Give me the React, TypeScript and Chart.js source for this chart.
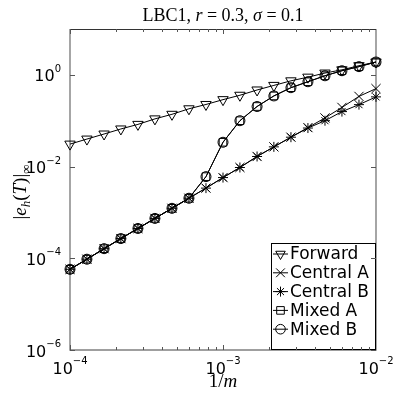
import React, { useEffect, useRef } from 'react';
import { Chart, registerables } from 'chart.js';

Chart.register(...registerables);

// 1/m values (x)
const invM = [1.0e-4, 1.29e-4, 1.67e-4, 2.15e-4, 2.78e-4, 3.59e-4, 4.64e-4, 5.99e-4, 7.74e-4, 1.0e-3, 1.29e-3, 1.67e-3, 2.15e-3, 2.78e-3, 3.59e-3, 4.64e-3, 5.99e-3, 7.74e-3, 1.0e-2];
// error series
const forward = [0.0309, 0.0398, 0.0513, 0.0661, 0.0832, 0.1096, 0.138, 0.182, 0.226, 0.288, 0.359, 0.468, 0.589, 0.741, 0.891, 1.096, 1.288, 1.585, 1.905];
const centralA = [5.75e-5, 9.55e-5, 1.62e-4, 2.69e-4, 4.47e-4, 7.41e-4, 1.23e-3, 2.04e-3, 3.39e-3, 5.75e-3, 9.55e-3, 0.0166, 0.0269, 0.0437, 0.0708, 0.115, 0.195, 0.339, 0.501];
const centralB = [5.75e-5, 9.55e-5, 1.62e-4, 2.69e-4, 4.47e-4, 7.41e-4, 1.23e-3, 2.04e-3, 3.39e-3, 5.75e-3, 9.55e-3, 0.0166, 0.0269, 0.0437, 0.0692, 0.1, 0.158, 0.224, 0.331];
const mixedA = [5.75e-5, 9.55e-5, 1.62e-4, 2.69e-4, 4.47e-4, 7.41e-4, 1.23e-3, 2.04e-3, 6.03e-3, 0.0339, 0.1, 0.204, 0.347, 0.525, 0.708, 0.955, 1.23, 1.51, 1.905];
const mixedB = [5.75e-5, 9.55e-5, 1.62e-4, 2.69e-4, 4.47e-4, 7.41e-4, 1.23e-3, 2.04e-3, 6.03e-3, 0.0339, 0.1, 0.204, 0.347, 0.525, 0.708, 0.955, 1.23, 1.51, 1.905];

const seriesNames = ['Forward', 'Central A', 'Central B', 'Mixed A', 'Mixed B'];
const xTickExps = [-4, -3, -2];
const yTickExps = [-6, -4, -2, 0];

const TICK_FONT = '"DejaVu Sans", sans-serif';
const SERIF = '"Liberation Serif", "DejaVu Serif", serif';

function drawMarker(ctx: CanvasRenderingContext2D, kind: string, x: number, y: number) {
  ctx.save();
  ctx.strokeStyle = '#000';
  ctx.lineWidth = 1;
  ctx.beginPath();
  if (kind === 'Forward') {
    const r = 5.5;
    ctx.moveTo(x, y + r);
    ctx.lineTo(x - r * 0.866, y - r * 0.5);
    ctx.lineTo(x + r * 0.866, y - r * 0.5);
    ctx.closePath();
  } else if (kind === 'Central A') {
    const d = 4.4;
    ctx.moveTo(x - d, y - d); ctx.lineTo(x + d, y + d);
    ctx.moveTo(x + d, y - d); ctx.lineTo(x - d, y + d);
  } else if (kind === 'Central B') {
    const r = 5; const d = r * 0.707;
    ctx.moveTo(x - r, y); ctx.lineTo(x + r, y);
    ctx.moveTo(x, y - r); ctx.lineTo(x, y + r);
    ctx.moveTo(x - d, y - d); ctx.lineTo(x + d, y + d);
    ctx.moveTo(x + d, y - d); ctx.lineTo(x - d, y + d);
  } else if (kind === 'Mixed A') {
    const s = 3.8;
    ctx.rect(x - s, y - s, 2 * s, 2 * s);
  } else {
    ctx.arc(x, y, 4.8, 0, Math.PI * 2);
  }
  ctx.stroke();
  ctx.restore();
}

function drawPow(ctx: CanvasRenderingContext2D, exp: number, x: number, baseline: number, align: 'center' | 'right') {
  ctx.font = `16px ${TICK_FONT}`;
  const wBase = ctx.measureText('10').width;
  ctx.font = `10px ${TICK_FONT}`;
  const eStr = exp < 0 ? '\u2212' + String(-exp) : String(exp);
  const wExp = ctx.measureText(eStr).width;
  const total = wBase + wExp;
  const start = align === 'center' ? x - total / 2 : x - total;
  ctx.textAlign = 'left';
  ctx.textBaseline = 'alphabetic';
  ctx.font = `16px ${TICK_FONT}`;
  ctx.fillText('10', start, baseline);
  ctx.font = `10px ${TICK_FONT}`;
  ctx.fillText(eStr, start + wBase, baseline - 9.5);
}

function drawSegments(ctx: CanvasRenderingContext2D, segs: { t: string; f: string; dy?: number }[], cx: number, baseline: number) {
  let total = 0;
  for (const s of segs) { ctx.font = s.f; total += ctx.measureText(s.t).width; }
  let x = cx - total / 2;
  ctx.textAlign = 'left';
  ctx.textBaseline = 'alphabetic';
  for (const s of segs) {
    ctx.font = s.f;
    ctx.fillText(s.t, x, baseline + (s.dy || 0));
    x += ctx.measureText(s.t).width;
  }
}

const decorPlugin = {
  id: 'decor',
  beforeDatasetsDraw(chart: any) {
    const { ctx, chartArea } = chart;
    const { left, right, top, bottom } = chartArea;
    ctx.save();
    ctx.fillStyle = '#fff';
    ctx.fillRect(0, 0, chart.width, chart.height);
    ctx.lineWidth = 1.4;
    ctx.strokeStyle = '#808080';
    ctx.beginPath();
    ctx.moveTo(left, top); ctx.lineTo(left, bottom); ctx.lineTo(right, bottom); ctx.lineTo(right, top);
    ctx.stroke();
    ctx.lineWidth = 1;
    ctx.strokeStyle = '#333';
    ctx.beginPath();
    ctx.moveTo(left, top + 0.5); ctx.lineTo(right, top + 0.5);
    ctx.stroke();
    ctx.restore();
  },
  afterDatasetsDraw(chart: any) {
    const { ctx, chartArea } = chart;
    const { left, right, top, bottom } = chartArea;
    const xs = chart.scales.x;
    const ys = chart.scales.y;
    ctx.save();
    // legend
    const lx0 = 271, lx1 = right, ly0 = 243, ly1 = bottom;
    ctx.fillStyle = '#fff';
    ctx.fillRect(lx0, ly0, lx1 - lx0, ly1 - ly0);
    ctx.strokeStyle = '#000';
    ctx.lineWidth = 1;
    ctx.strokeRect(lx0 + 0.5, ly0 + 0.5, lx1 - lx0 - 1, ly1 - ly0 - 1);
    seriesNames.forEach((name, i) => {
      const y = 254 + i * 18.8;
      ctx.strokeStyle = '#000';
      ctx.lineWidth = 1;
      ctx.beginPath();
      ctx.moveTo(273, y); ctx.lineTo(288, y);
      ctx.stroke();
      drawMarker(ctx, name, 280.5, y);
      ctx.fillStyle = '#000';
      ctx.font = `17px ${TICK_FONT}`;
      ctx.textAlign = 'left';
      ctx.textBaseline = 'middle';
      ctx.fillText(name, 290, y + 1);
    });
    // ticks
    ctx.strokeStyle = '#555';
    ctx.lineWidth = 1;
    ctx.beginPath();
    for (let e = -4; e < -2; e++) {
      for (let m = 1; m <= 9; m++) {
        const v = m * Math.pow(10, e);
        const px = Math.round(xs.getPixelForValue(v)) + 0.5;
        const len = m === 1 ? 5 : 3;
        ctx.moveTo(px, bottom); ctx.lineTo(px, bottom - len);
        ctx.moveTo(px, top); ctx.lineTo(px, top + len);
      }
    }
    yTickExps.forEach((e) => {
      const py = Math.round(ys.getPixelForValue(Math.pow(10, e))) + 0.5;
      ctx.moveTo(left, py); ctx.lineTo(left + 5, py);
      ctx.moveTo(right, py); ctx.lineTo(right - 5, py);
    });
    ctx.stroke();
    ctx.restore();
  },
  afterDraw(chart: any) {
    const { ctx, chartArea } = chart;
    const { left, right, top, bottom } = chartArea;
    const xs = chart.scales.x;
    const ys = chart.scales.y;
    const cx = (left + right) / 2;
    ctx.save();
    ctx.fillStyle = '#000';
    // tick labels
    xTickExps.forEach((e) => {
      const px = xs.getPixelForValue(Math.pow(10, e));
      drawPow(ctx, e, px, bottom + 23.5, 'center');
    });
    yTickExps.forEach((e) => {
      const py = ys.getPixelForValue(Math.pow(10, e));
      drawPow(ctx, e, left - 9, py + 6.5, 'right');
    });
    // title
    drawSegments(ctx, [
      { t: 'LBC1, ', f: `18px ${SERIF}` },
      { t: 'r', f: `italic 18px ${SERIF}` },
      { t: ' = 0.3, ', f: `18px ${SERIF}` },
      { t: '\u03c3', f: `italic 18px ${SERIF}` },
      { t: ' = 0.1', f: `18px ${SERIF}` },
    ], cx, 21);
    // x label
    drawSegments(ctx, [
      { t: '1/', f: `19px ${SERIF}` },
      { t: 'm', f: `italic 19px ${SERIF}` },
    ], cx, 387);
    // y label
    ctx.translate(26, 192);
    ctx.rotate(-Math.PI / 2);
    drawSegments(ctx, [
      { t: '|', f: `19px ${SERIF}` },
      { t: 'e', f: `italic 19px ${SERIF}` },
      { t: 'h', f: `italic 13px ${SERIF}`, dy: 4 },
      { t: '(', f: `19px ${SERIF}` },
      { t: 'T', f: `italic 19px ${SERIF}` },
      { t: ')|', f: `19px ${SERIF}` },
      { t: '\u221e', f: `13px ${SERIF}`, dy: 4 },
    ], 0, 0);
    ctx.restore();
  },
};

function makeDataset(label: string, values: number[], style: any) {
  return {
    label,
    data: invM.map((x, i) => ({ x, y: values[i] })),
    borderColor: '#000',
    borderWidth: 1,
    pointBorderColor: '#000',
    pointBackgroundColor: 'rgba(0,0,0,0)',
    pointBorderWidth: 1,
    fill: false,
    tension: 0,
    clip: false,
    ...style,
  };
}

export default function App() {
  const ref = useRef<HTMLCanvasElement | null>(null);
  useEffect(() => {
    if (!ref.current) return;
    const chart = new Chart(ref.current, {
      type: 'line',
      data: {
        datasets: [
          makeDataset('Forward', forward, { pointStyle: 'triangle', rotation: 180, pointRadius: 6 }),
          makeDataset('Central A', centralA, { pointStyle: 'crossRot', pointRadius: 6.5 }),
          makeDataset('Central B', centralB, { pointStyle: 'star', pointRadius: 5 }),
          makeDataset('Mixed A', mixedA, { pointStyle: 'rect', pointRadius: 5.4 }),
          makeDataset('Mixed B', mixedB, { pointStyle: 'circle', pointRadius: 5 }),
        ],
      },
      options: {
        animation: false,
        responsive: true,
        maintainAspectRatio: false,
        layout: { padding: { left: 70, right: 39, top: 29, bottom: 43 } },
        plugins: { legend: { display: false }, title: { display: false }, tooltip: { enabled: false } },
        scales: {
          x: { type: 'logarithmic', min: 1e-4, max: 1e-2, display: false },
          y: { type: 'logarithmic', min: 1e-6, max: 10, display: false },
        },
      },
      plugins: [decorPlugin],
    });
    return () => chart.destroy();
  }, []);
  return (
    <div style={{ position: 'fixed', left: 0, top: 0, width: 415, height: 393, background: '#fff' }}>
      <canvas ref={ref} />
    </div>
  );
}
